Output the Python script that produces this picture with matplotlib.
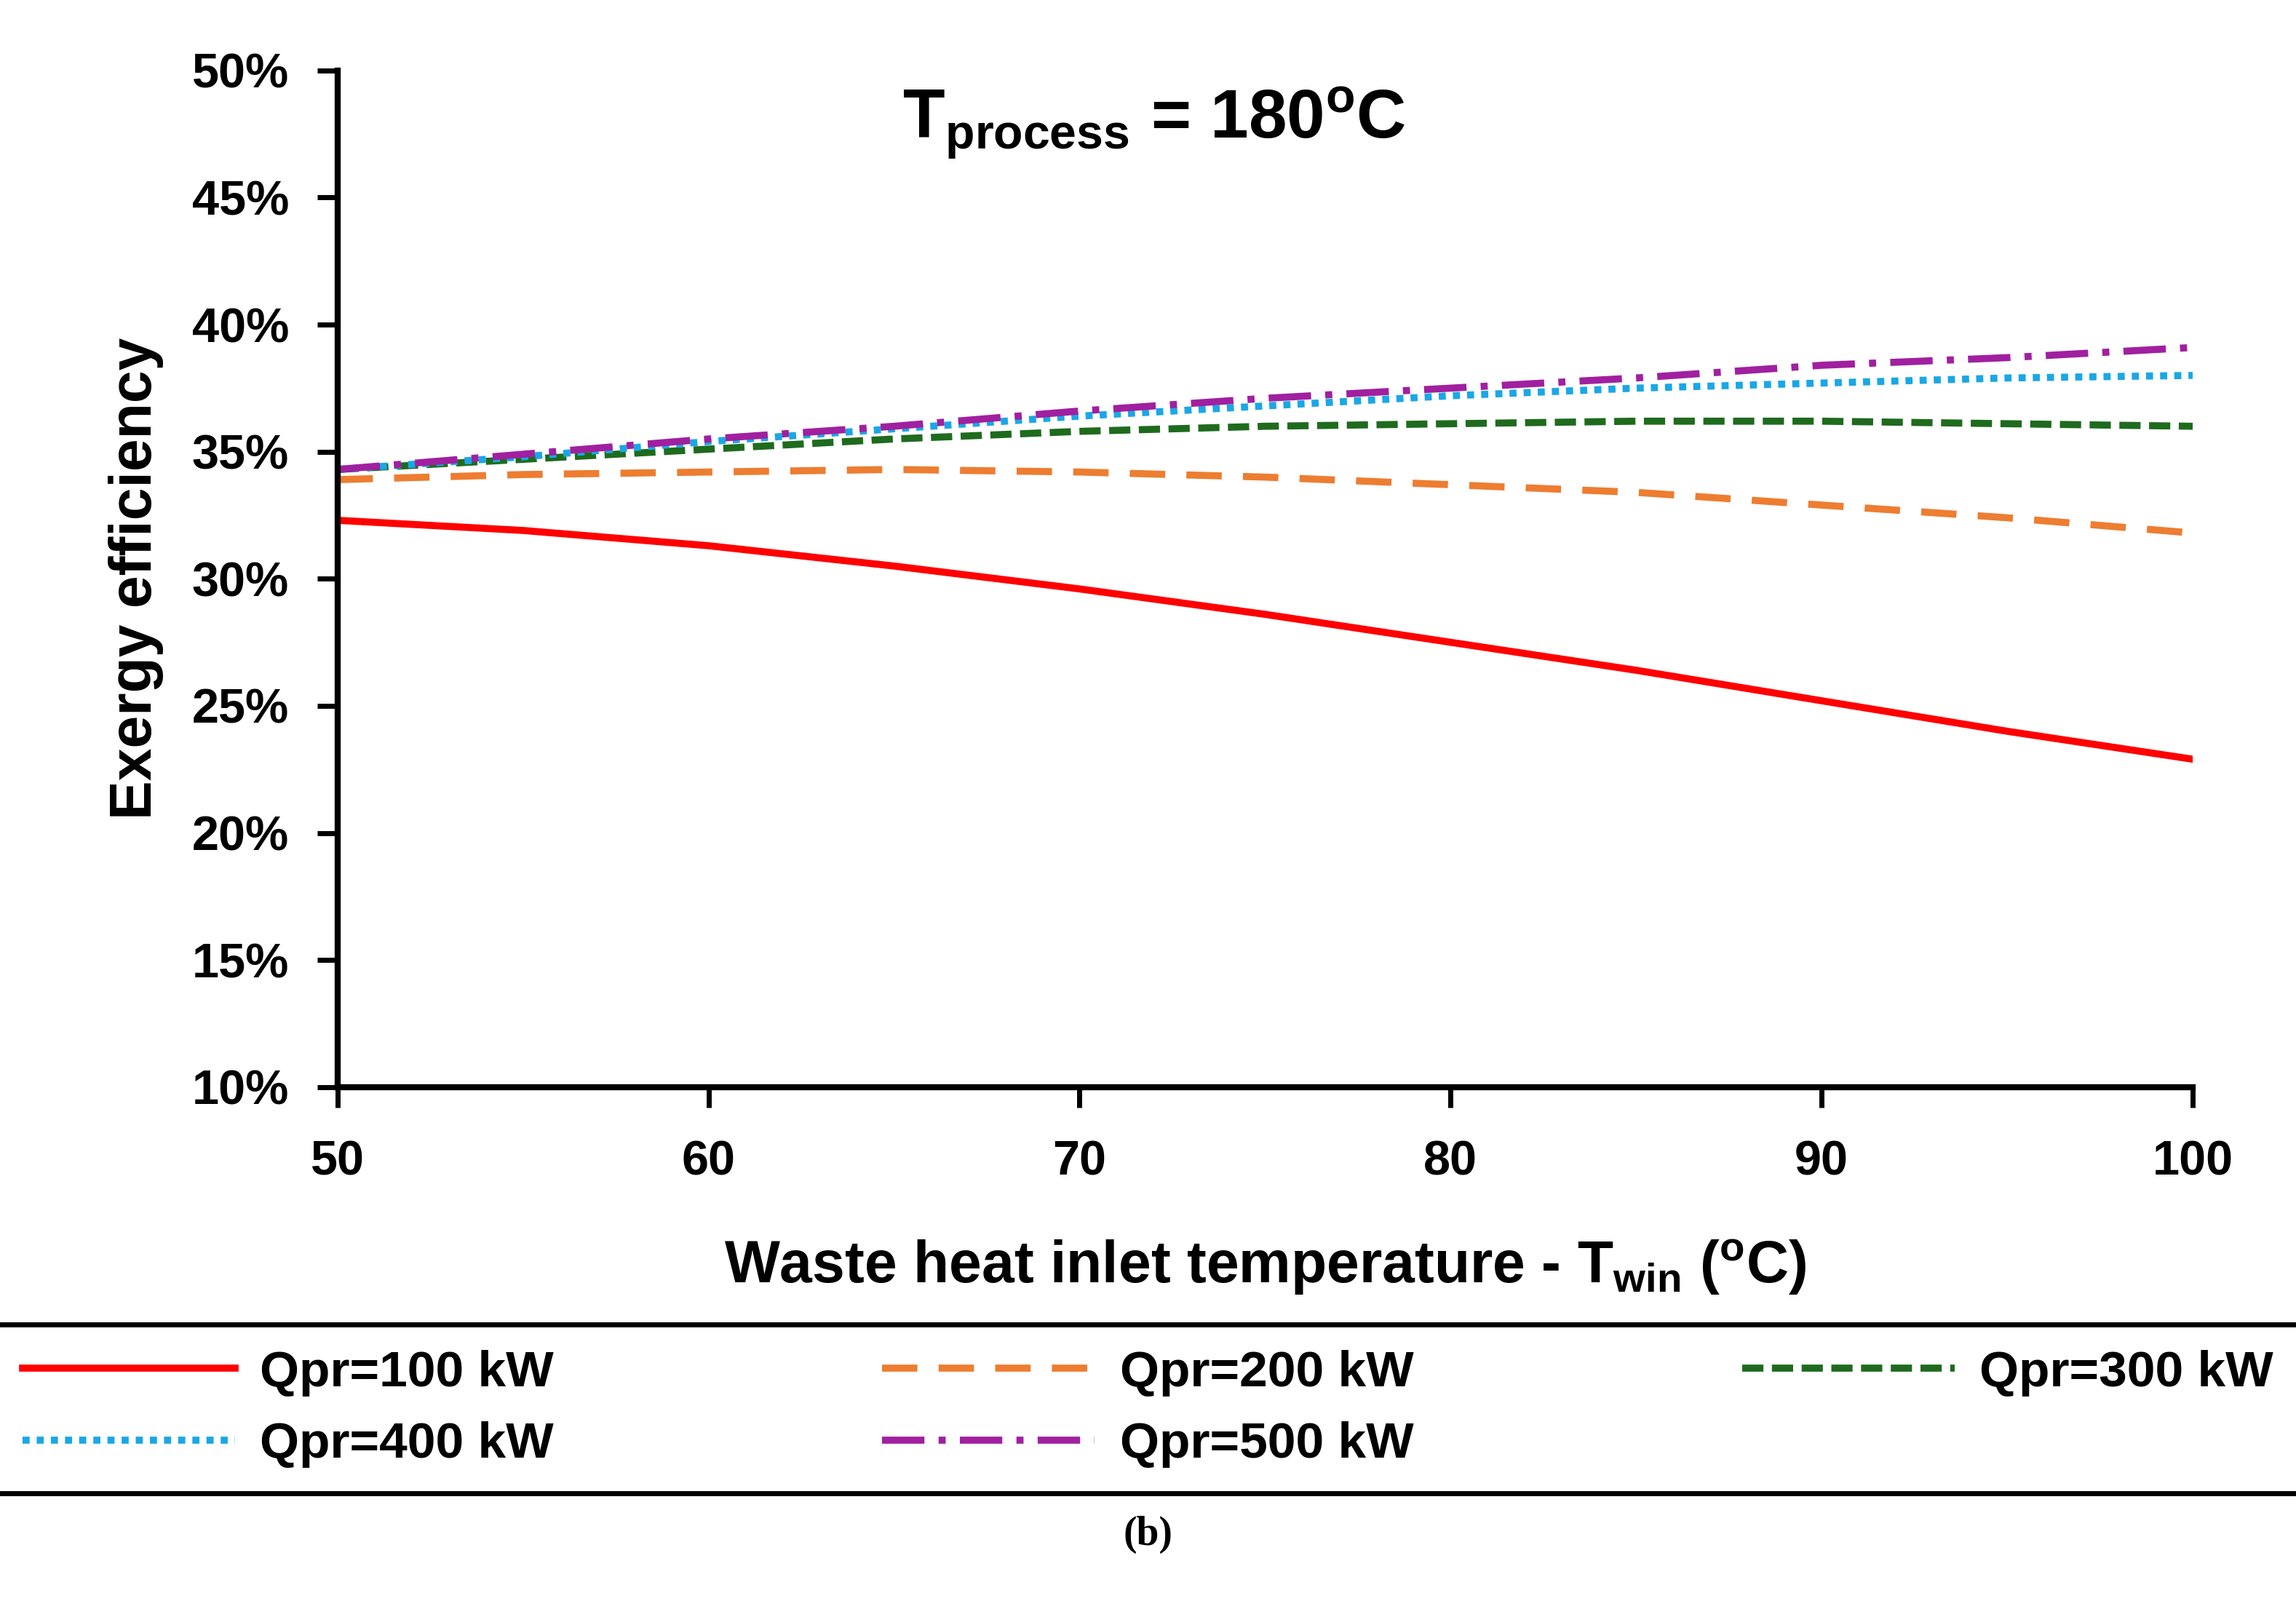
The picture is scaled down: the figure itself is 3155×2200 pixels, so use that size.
import matplotlib.pyplot as plt

plt.rcParams['font.family'] = 'Liberation Sans'
plt.rcParams['font.weight'] = 'bold'
plt.rcParams['axes.labelweight'] = 'bold'
plt.rcParams['mathtext.fontset'] = 'custom'
plt.rcParams['mathtext.bf'] = 'Liberation Sans:bold'
plt.rcParams['mathtext.rm'] = 'Liberation Sans:bold'
plt.rcParams['mathtext.default'] = 'bf'

# data
t_win = [50, 55, 60, 65, 70, 75, 80, 85, 90, 95, 100]
q100 = [32.3, 31.9, 31.3, 30.5, 29.6, 28.6, 27.5, 26.4, 25.2, 24.0, 22.9]
q200 = [33.9, 34.1, 34.2, 34.3, 34.2, 34.0, 33.7, 33.4, 32.9, 32.4, 31.8]
q300 = [34.3, 34.7, 35.1, 35.5, 35.8, 36.0, 36.1, 36.2, 36.2, 36.1, 36.0]
q400 = [34.3, 34.8, 35.4, 35.9, 36.4, 36.8, 37.2, 37.5, 37.7, 37.9, 38.0]
q500 = [34.3, 34.9, 35.5, 36.0, 36.6, 37.1, 37.5, 37.9, 38.4, 38.7, 39.1]
labels = ['Qpr=100 kW', 'Qpr=200 kW', 'Qpr=300 kW', 'Qpr=400 kW', 'Qpr=500 kW']

fig = plt.figure(figsize=(15.775, 11), dpi=200)
ax = fig.add_axes([0.147, 0.321, 0.808, 0.635])

h1, = ax.plot(t_win, q100, color='#ff0000', lw=3.5, ls='-')
h2, = ax.plot(t_win, q200, color='#ed7d31', lw=3.5, ls=(0, (5, 3)))
h3, = ax.plot(t_win, q300, color='#1e6b1e', lw=3.5, ls=(0, (3, 1.2)))
h4, = ax.plot(t_win, q400, color='#1aa7e6', lw=3.5, ls=(0, (1, 1)))
h5, = ax.plot(t_win, q500, color='#a020a0', lw=3.5, ls=(0, (6, 2, 1, 2)))

ax.set_xlim(50, 100)
ax.set_ylim(10, 50)
ax.set_xticks(range(50, 101, 10))
ax.set_yticks(range(10, 51, 5))
ax.set_yticklabels(['%d%%' % v for v in range(10, 51, 5)])
ax.tick_params(labelsize=24, width=2.5, length=10, direction='out')
ax.tick_params(axis='x', pad=16)
ax.tick_params(axis='y', pad=14)
for s in ['top', 'right']:
    ax.spines[s].set_visible(False)
for s in ['left', 'bottom']:
    ax.spines[s].set_linewidth(3)

ax.set_xlabel('Waste heat inlet temperature - T$_{win}$ ($^{o}$C)', fontsize=29, labelpad=26,
              fontweight='bold')
ax.set_ylabel('Exergy efficiency', fontsize=29, labelpad=14, fontweight='bold')
ax.text(0.44, 0.985, 'T$_{process}$ = 180$^{o}$C', transform=ax.transAxes,
        ha='center', va='top', fontsize=34, fontweight='bold')

handles = [h1, h4, h2, h5, h3]
lab = [labels[0], labels[3], labels[1], labels[4], labels[2]]
leg = fig.legend(handles, lab, ncol=3, loc='center', bbox_to_anchor=(0.5, 0.12),
                 fontsize=25, frameon=True, fancybox=False, edgecolor='black', framealpha=1,
                 handlelength=4.2, handletextpad=0.5, columnspacing=6.5, borderpad=0.5,
                 labelspacing=0.5)
leg.get_frame().set_linewidth(2.5)

fig.text(0.5, 0.035, '(b)', ha='center', fontsize=20, family='Liberation Serif')

fig.savefig('out.png')
